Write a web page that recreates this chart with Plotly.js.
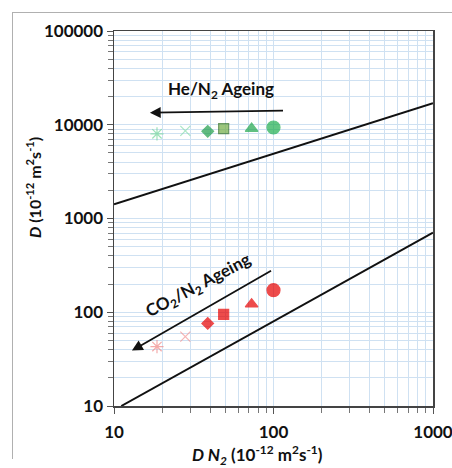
<!DOCTYPE html>
<html>
<head>
<meta charset="utf-8">
<script src="https://cdn.plot.ly/plotly-3.0.1.min.js"></script>
<style>
  html, body { margin: 0; padding: 0; background: #fff; }
  #wrap { position: relative; width: 452px; height: 468px; }
  #chart { position: absolute; left: 0; top: 0; width: 452px; height: 468px; }
  #frame { position: absolute; left: 12px; top: 12px; width: 460px; height: 446px;
           border-left: 1px solid #b0b0b0; border-top: 1px solid #b0b0b0; pointer-events: none; }
</style>
</head>
<body>
<div id="wrap">
  <div id="chart"></div>
  <div id="frame"></div>
</div>
<script>
// ---- data ----
const dN2 = [18.6, 28, 38.7, 48.7, 72.9, 100];
const heD = [8000, 8600, 8500, 9100, 9100, 9350];
const co2D = [43, 55, 76, 95, 122, 172];

const upperLineX = [10, 1000];
const upperLineY = [1420, 17000];
const lowerLineX = [11.1, 1000];
const lowerLineY = [10, 707];

const xTickVals = [10, 100, 1000];
const xTickText = ['10', '100', '1000'];
const yTickVals = [10, 100, 1000, 10000, 100000];
const yTickText = ['10', '100', '1000', '10000', '100000'];

// ---- styles ----
const symbols = ['asterisk-open', 'x-thin-open', 'diamond', 'square', 'triangle-up', 'circle'];
const sizes = [11, 10, 9, 10, 11, 13];
const heColors = ['#74d69b', '#86dcab', '#1e9e4a', '#72ad46', '#1fa64c', '#1fae4f'];
const heLine = ['#74d69b', '#86dcab', '#1e9e4a', '#2f6e22', '#1fa64c', '#1fae4f'];
const co2Colors = ['#f08888', '#f29494', '#e60000', '#e60000', '#e60000', '#e60000'];

function minorVals(lo, hi) {
  const v = [];
  for (let d = lo; d < hi; d *= 10) for (let k = 2; k <= 9; k++) v.push(d * k);
  return v;
}

const fontFam = 'Lato, "Open Sans", sans-serif';
const gridCol = '#cfe1f2';

const traces = [
  { x: upperLineX, y: upperLineY, mode: 'lines', line: { color: '#111', width: 2 }, hoverinfo: 'skip' },
  { x: lowerLineX, y: lowerLineY, mode: 'lines', line: { color: '#111', width: 2 }, hoverinfo: 'skip' },
  { x: dN2, y: heD, mode: 'markers',
    marker: { symbol: symbols, size: sizes, color: heColors, line: { color: heLine, width: 1.2 } } },
  { x: dN2, y: co2D, mode: 'markers',
    marker: { symbol: symbols, size: sizes, color: co2Colors, line: { color: co2Colors, width: 1.2 } } }
];

const tickFont = { family: fontFam, size: 17, weight: 700, color: '#111' };

const layout = {
  width: 452, height: 468,
  margin: { l: 114, r: 19, t: 31, b: 62 },
  paper_bgcolor: '#fff', plot_bgcolor: '#fff',
  showlegend: false,
  font: { family: fontFam, size: 15, color: '#111', weight: 700 },
  xaxis: {
    type: 'log', range: [1, 3],
    tickmode: 'array', tickvals: xTickVals, ticktext: xTickText,
    ticks: 'outside', ticklen: 6, tickcolor: '#555',
    showline: true, linecolor: '#444', linewidth: 1.5, mirror: true,
    showgrid: true, gridcolor: gridCol, gridwidth: 1, zeroline: false,
    tickfont: tickFont, ticklabelstandoff: 4, ticklabeloverflow: 'allow',
    minor: { tickmode: 'array', tickvals: minorVals(10, 1000), ticks: 'outside', ticklen: 5,
             tickcolor: '#777', showgrid: true, gridcolor: gridCol, gridwidth: 1 }
  },
  yaxis: {
    type: 'log', range: [1, 5],
    tickmode: 'array', tickvals: yTickVals, ticktext: yTickText,
    ticks: 'outside', ticklen: 6, tickcolor: '#555',
    showline: true, linecolor: '#444', linewidth: 1.5, mirror: true,
    showgrid: true, gridcolor: gridCol, gridwidth: 1, zeroline: false,
    tickfont: tickFont, ticklabeloverflow: 'allow',
    minor: { tickmode: 'array', tickvals: minorVals(10, 100000), ticks: 'outside', ticklen: 5,
             tickcolor: '#777', showgrid: true, gridcolor: gridCol, gridwidth: 1 }
  },
  annotations: [
    // He arrow
    { xref: 'x', yref: 'y', axref: 'x', ayref: 'y',
      x: 1.225, y: 4.129, ax: 2.069, ay: 4.151,
      showarrow: true, arrowhead: 2, arrowsize: 1.2, arrowwidth: 1.8, arrowcolor: '#111', text: '' },
    // CO2 arrow
    { xref: 'x', yref: 'y', axref: 'x', ayref: 'y',
      x: 1.1125, y: 1.591, ax: 1.994, ay: 2.452,
      showarrow: true, arrowhead: 2, arrowsize: 1.2, arrowwidth: 1.8, arrowcolor: '#111', text: '' },
    { xref: 'x', yref: 'y', x: 1.669, y: 4.37, showarrow: false, xanchor: 'center', yanchor: 'middle',
      text: 'He/N<sub>2</sub> Ageing', font: { family: fontFam, size: 17, weight: 700, color: '#111' } },
    { xref: 'x', yref: 'y', x: 1.53, y: 2.275, showarrow: false, textangle: -28, xanchor: 'center', yanchor: 'middle',
      text: 'CO<sub>2</sub>/N<sub>2</sub> Ageing', font: { family: fontFam, size: 17, weight: 700, color: '#111' } },
    // axis titles
    { xref: 'paper', yref: 'paper', x: (257 - 114) / 319, y: (406 - 455) / 375, showarrow: false,
      xanchor: 'center', yanchor: 'middle',
      text: '<i>D N<sub>2</sub></i> (10<sup>-12</sup> m<sup>2</sup>s<sup>-1</sup>)',
      font: { family: fontFam, size: 17, weight: 700, color: '#111' } },
    { xref: 'paper', yref: 'paper', x: (33 - 114) / 319, y: (406 - 188) / 375, showarrow: false, textangle: -90,
      xanchor: 'center', yanchor: 'middle',
      text: '<i>D</i> (10<sup>-12</sup> m<sup>2</sup>s<sup>-1</sup>)',
      font: { family: fontFam, size: 16, weight: 700, color: '#111' } }
  ]
};

Plotly.newPlot('chart', traces, layout, { displayModeBar: false, staticPlot: true });
</script>
</body>
</html>
